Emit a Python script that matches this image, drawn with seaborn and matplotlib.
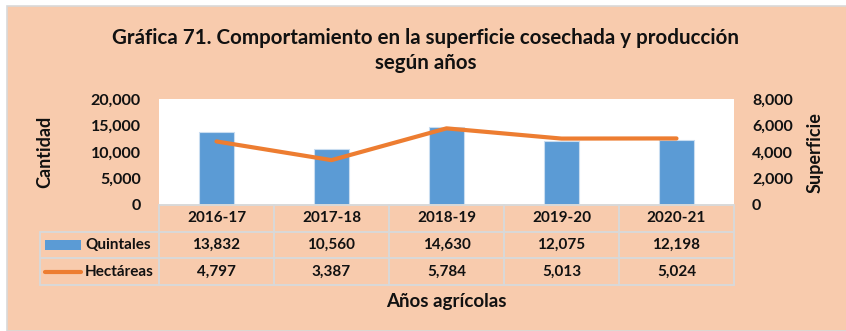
import numpy as np
import matplotlib
matplotlib.use("Agg")
import matplotlib.pyplot as plt
import seaborn as sns
from matplotlib.patches import Rectangle
from matplotlib.lines import Line2D
from matplotlib.ticker import MultipleLocator, StrMethodFormatter
from matplotlib.transforms import blended_transform_factory

# Data
years = ["2016-17", "2017-18", "2018-19", "2019-20", "2020-21"]
quintales = [13832, 10560, 14630, 12075, 12198]
hectareas = [4797, 3387, 5784, 5013, 5024]
series_names = ["Quintales", "Hectáreas"]

title_lines = ["Gráfica 71. Comportamiento en la superficie cosechada y producción",
               "según años"]

BLUE = "#5B9BD5"
ORANGE = "#ED7D31"
PEACH = "#F8CBAD"
GRID = "#D9D9D9"

sns.set_style("white")
plt.rcParams["font.family"] = ["Lato", "DejaVu Sans"]
plt.rcParams["font.weight"] = "bold"
plt.rcParams["text.color"] = "#111111"

W, H = 846, 331
fig = plt.figure(figsize=(W / 100, H / 100), dpi=100)
fig.patch.set_facecolor("white")

def fx(px):
    return px / W

def fy(py):
    return 1 - py / H

# Chart area background
fig.add_artist(Rectangle((fx(7), 0), 1 - fx(7) + 0.01, fy(6), transform=fig.transFigure,
                         facecolor=PEACH, edgecolor=GRID, linewidth=1.2, zorder=0))

fig.text(fx(426), fy(38), title_lines[0], ha="center", va="center", fontsize=14.8)
fig.text(fx(426), fy(63), title_lines[1], ha="center", va="center", fontsize=14.8)

# Plot area
ax = fig.add_axes([fx(159), fy(205), fx(734) - fx(159), fy(99) - fy(205)])
ax.set_facecolor("white")
sns.barplot(x=years, y=quintales, ax=ax, color=BLUE, saturation=1, width=0.31,
            edgecolor="#C9DDF0", linewidth=0.8)
ax.set_xlim(-0.5, len(years) - 0.5)
ax.set_ylim(0, 20000)
ax.yaxis.set_major_locator(MultipleLocator(5000))
ax.yaxis.set_major_formatter(StrMethodFormatter("{x:,.0f}"))
ax.set_xticks([])
ax.set_xlabel("")
ax.set_ylabel("")
ax.tick_params(axis="y", length=0, pad=13, labelsize=11.5, labelcolor="#111111")
for s in ax.spines.values():
    s.set_visible(False)

ax2 = ax.twinx()
sns.lineplot(x=np.arange(len(years)), y=hectareas, ax=ax2, color=ORANGE, linewidth=3)
ax2.set_ylim(0, 8000)
ax2.yaxis.set_major_locator(MultipleLocator(2000))
ax2.yaxis.set_major_formatter(StrMethodFormatter("{x:,.0f}"))
ax2.set_ylabel("")
ax2.tick_params(axis="y", length=0, pad=13, labelsize=11.5, labelcolor="#111111")
for s in ax2.spines.values():
    s.set_visible(False)
ax2.set_xlim(-0.5, len(years) - 0.5)

fig.text(fx(45), fy(152), "Cantidad", rotation=90, ha="center", va="center", fontsize=13)
fig.text(fx(815), fy(153), "Superficie", rotation=90, ha="center", va="center", fontsize=13)

# Data table under the plot
trans = blended_transform_factory(ax.transData, fig.transFigure)
rows_px = [205, 232, 258, 285]
xs = np.arange(len(years) + 1) - 0.5

fig.add_artist(Line2D([xs[0], xs[-1]], [fy(rows_px[0]), fy(rows_px[0])], transform=trans,
                      color=GRID, linewidth=1.4))
right_edge = fx(734)
for ypx in rows_px[1:]:
    fig.add_artist(Line2D([fx(40), right_edge], [fy(ypx), fy(ypx)],
                          transform=fig.transFigure, color=GRID, linewidth=1.4))
for xv in xs:
    fig.add_artist(Line2D([xv, xv], [fy(rows_px[0]), fy(rows_px[-1])], transform=trans,
                          color=GRID, linewidth=1.4))
fig.add_artist(Line2D([fx(40), fx(40)], [fy(rows_px[1]), fy(rows_px[-1])],
                      transform=fig.transFigure, color=GRID, linewidth=1.4))

row_c = [(rows_px[i] + rows_px[i + 1]) / 2 for i in range(3)]
for i, yr in enumerate(years):
    fig.text(i, fy(row_c[0]), yr, transform=trans, ha="center", va="center", fontsize=11)
    fig.text(i, fy(row_c[1]), f"{quintales[i]:,}", transform=trans, ha="center",
             va="center", fontsize=11)
    fig.text(i, fy(row_c[2]), f"{hectareas[i]:,}", transform=trans, ha="center",
             va="center", fontsize=11)

# Legend keys in the table
fig.add_artist(Rectangle((fx(45), fy(250)), fx(81) - fx(45), fy(240) - fy(250),
                         transform=fig.transFigure, facecolor=BLUE, edgecolor="none"))
fig.add_artist(Line2D([fx(45), fx(81)], [fy(271.5), fy(271.5)], transform=fig.transFigure,
                      color=ORANGE, linewidth=3, solid_capstyle="round"))
fig.text(fx(85), fy(row_c[1]), series_names[0], ha="left", va="center", fontsize=11)
fig.text(fx(85), fy(row_c[2]), series_names[1], ha="left", va="center", fontsize=11)

fig.text(fx(446), fy(302), "Años agrícolas", ha="center", va="center", fontsize=13.5)

fig.savefig("out.png", dpi=100, facecolor=fig.get_facecolor())
